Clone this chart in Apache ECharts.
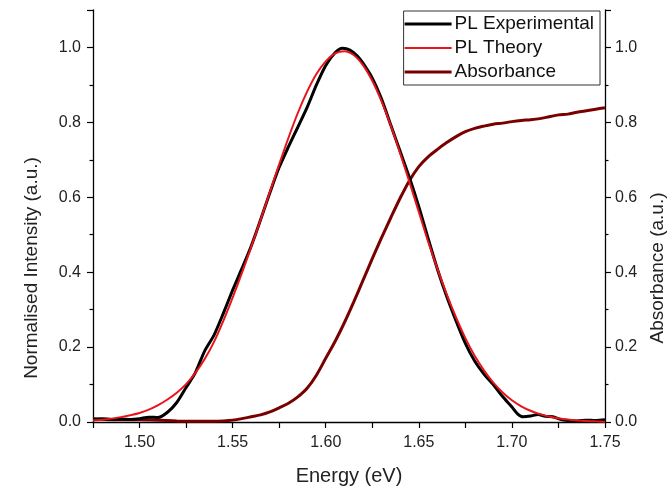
<!DOCTYPE html>
<html>
<head>
<meta charset="utf-8">
<script src="https://cdn.jsdelivr.net/npm/echarts@6/dist/echarts.min.js"></script>
<style>
  html, body { margin: 0; padding: 0; background: #fff; }
  #chart { width: 667px; height: 488px; }
</style>
</head>
<body>
<div id="chart"></div>
<script>
// Photoluminescence (measured and modelled) with absorbance, against photon energy
const energyExp = [1.475, 1.48, 1.485, 1.49, 1.495, 1.50, 1.505, 1.51, 1.515, 1.52, 1.525, 1.53, 1.535, 1.54, 1.545, 1.55, 1.555, 1.56, 1.565, 1.57, 1.575, 1.58, 1.585, 1.59, 1.595, 1.60, 1.605, 1.609, 1.613, 1.617, 1.62, 1.625, 1.63, 1.635, 1.64, 1.645, 1.65, 1.655, 1.66, 1.665, 1.67, 1.675, 1.68, 1.685, 1.69, 1.695, 1.70, 1.703, 1.706, 1.71, 1.714, 1.718, 1.722, 1.726, 1.73, 1.735, 1.74, 1.745, 1.75];
const plExperimental = [0.008, 0.009, 0.007, 0.008, 0.007, 0.009, 0.013, 0.012, 0.026, 0.052, 0.092, 0.132, 0.19, 0.232, 0.29, 0.352, 0.41, 0.47, 0.54, 0.612, 0.68, 0.735, 0.787, 0.84, 0.9, 0.952, 0.986, 0.998, 0.993, 0.977, 0.958, 0.918, 0.862, 0.792, 0.722, 0.652, 0.575, 0.49, 0.408, 0.335, 0.27, 0.21, 0.163, 0.128, 0.1, 0.068, 0.04, 0.022, 0.014, 0.016, 0.02, 0.015, 0.014, 0.007, 0.004, 0.003, 0.005, 0.004, 0.006];

const energyTheory = [1.475, 1.48, 1.485, 1.49, 1.495, 1.50, 1.505, 1.51, 1.515, 1.52, 1.525, 1.53, 1.535, 1.54, 1.545, 1.55, 1.555, 1.56, 1.565, 1.57, 1.575, 1.58, 1.585, 1.59, 1.595, 1.60, 1.605, 1.61, 1.615, 1.62, 1.625, 1.63, 1.635, 1.64, 1.645, 1.65, 1.655, 1.66, 1.665, 1.67, 1.675, 1.68, 1.685, 1.69, 1.695, 1.70, 1.705, 1.71, 1.715, 1.72, 1.725, 1.73, 1.735, 1.74, 1.745, 1.75];
const plTheory = [0.004, 0.006, 0.009, 0.013, 0.018, 0.024, 0.033, 0.045, 0.06, 0.078, 0.101, 0.131, 0.168, 0.214, 0.27, 0.332, 0.398, 0.468, 0.54, 0.614, 0.688, 0.759, 0.825, 0.882, 0.929, 0.963, 0.984, 0.99, 0.98, 0.953, 0.911, 0.856, 0.791, 0.717, 0.64, 0.561, 0.482, 0.409, 0.341, 0.279, 0.224, 0.177, 0.138, 0.105, 0.079, 0.058, 0.042, 0.03, 0.021, 0.0145, 0.0098, 0.0065, 0.0043, 0.0027, 0.0017, 0.001];

const energyAbs = [1.475, 1.48, 1.49, 1.50, 1.51, 1.52, 1.53, 1.54, 1.545, 1.55, 1.555, 1.56, 1.565, 1.57, 1.575, 1.58, 1.585, 1.59, 1.595, 1.60, 1.605, 1.61, 1.615, 1.62, 1.625, 1.63, 1.635, 1.64, 1.645, 1.65, 1.655, 1.66, 1.665, 1.67, 1.675, 1.68, 1.685, 1.69, 1.695, 1.70, 1.705, 1.71, 1.715, 1.72, 1.725, 1.73, 1.735, 1.74, 1.745, 1.75];
const absorbance = [0.008, 0.007, 0.006, 0.006, 0.005, 0.003, 0.002, 0.002, 0.003, 0.005, 0.009, 0.014, 0.019, 0.027, 0.038, 0.05, 0.067, 0.09, 0.125, 0.17, 0.215, 0.265, 0.32, 0.378, 0.436, 0.492, 0.546, 0.598, 0.645, 0.682, 0.708, 0.728, 0.746, 0.762, 0.775, 0.784, 0.79, 0.795, 0.798, 0.802, 0.805, 0.807, 0.81, 0.815, 0.82, 0.822, 0.827, 0.831, 0.835, 0.839];

const yTicks = ['0.0', '0.2', '0.4', '0.6', '0.8', '1.0'];

const pairs = (xs, ys) => xs.map((x, i) => [x, ys[i]]);

const FONT = "'Liberation Sans', Arial, sans-serif";
const TXT = '#222';
const C_EXP = '#000000';
const C_THEORY = '#e8141a';
const C_ABS = '#7a0000';

function valueAxis(pos) {
  return {
    type: 'value',
    position: pos,
    min: 0, max: 1.1, interval: 0.2,
    axisLine: { show: true, onZero: false, lineStyle: { color: '#000', width: 1.3 } },
    axisTick: { show: true, inside: false, length: 6, lineStyle: { color: '#000', width: 1.2 } },
    minorTick: { show: true, splitNumber: 2, length: 3.5, lineStyle: { color: '#000', width: 1.2 } },
    splitLine: { show: false },
    axisLabel: {
      margin: pos === 'left' ? 12 : 10,
      fontSize: 16, color: TXT, fontFamily: FONT,
      formatter: v => {
        const s = v.toFixed(1);
        return yTicks.indexOf(s) >= 0 ? s : '';
      }
    },
    nameLocation: 'middle',
    nameRotate: 90,
    nameTextStyle: { fontSize: 19, color: TXT, fontFamily: FONT }
  };
}

const leftAxis = valueAxis('left');
leftAxis.name = 'Normalised Intensity (a.u.)';
leftAxis.nameGap = 52;
leftAxis.nameTextStyle.padding = [0, 104, 0, 0];

const rightAxis = valueAxis('right');
rightAxis.name = 'Absorbance (a.u.)';
rightAxis.nameGap = 42;
rightAxis.nameTextStyle.padding = [0, 104, 0, 0];

// flat bar icons for the legend keys (thick for measured/absorbance, thin for theory)
const ICON_THICK = 'path://M0,0h47v3h-47z';
const ICON_THIN = 'path://M0,0h47v2h-47z';

const chart = echarts.init(document.getElementById('chart'), null, { renderer: 'canvas' });
chart.setOption({
  animation: false,
  backgroundColor: '#fff',
  textStyle: { fontFamily: FONT },
  grid: { left: 93, right: 62, top: 10, bottom: 66, containLabel: false, outerBoundsMode: 'none' },
  legend: {
    orient: 'vertical',
    right: 67, top: 11,
    data: [
      { name: 'PL Experimental', icon: ICON_THICK, itemStyle: { color: C_EXP } },
      { name: 'PL Theory', icon: ICON_THIN, itemStyle: { color: C_THEORY } },
      { name: 'Absorbance', icon: ICON_THICK, itemStyle: { color: C_ABS } }
    ],
    backgroundColor: '#fff',
    borderColor: '#333',
    borderWidth: 1,
    borderRadius: 0,
    padding: [3, 6, 3, 1],
    itemGap: 4,
    itemWidth: 47,
    itemHeight: 3,
    textStyle: { fontSize: 19, color: '#111', fontFamily: FONT, lineHeight: 20, padding: [0, 0, 0, -2] }
  },
  xAxis: {
    type: 'value',
    min: 1.475, max: 1.75, interval: 0.025,
    name: 'Energy (eV)',
    nameLocation: 'middle',
    nameGap: 44,
    nameTextStyle: { fontSize: 20, color: TXT, fontFamily: FONT },
    axisLine: { show: true, onZero: false, lineStyle: { color: '#000', width: 1.3 } },
    axisTick: { show: true, length: 6, lineStyle: { color: '#000', width: 1.2 } },
    splitLine: { show: false },
    axisLabel: {
      margin: 13, fontSize: 16, color: TXT, fontFamily: FONT,
      showMinLabel: true, showMaxLabel: true, hideOverlap: false,
      formatter: v => {
        const k = Math.round(v * 1000);
        return k % 50 === 0 ? v.toFixed(2) : '';
      }
    }
  },
  yAxis: [leftAxis, rightAxis],
  series: [
    {
      name: 'Absorbance', type: 'line', yAxisIndex: 1,
      data: pairs(energyAbs, absorbance),
      symbol: 'none', smooth: 0.3,
      lineStyle: { color: C_ABS, width: 3 },
      itemStyle: { color: C_ABS }, z: 2
    },
    {
      name: 'PL Experimental', type: 'line', yAxisIndex: 0,
      data: pairs(energyExp, plExperimental),
      symbol: 'none', smooth: 0.25,
      lineStyle: { color: C_EXP, width: 3 },
      itemStyle: { color: C_EXP }, z: 3
    },
    {
      name: 'PL Theory', type: 'line', yAxisIndex: 0,
      data: pairs(energyTheory, plTheory),
      symbol: 'none', smooth: 0.3,
      lineStyle: { color: C_THEORY, width: 2 },
      itemStyle: { color: C_THEORY }, z: 4
    }
  ]
});
</script>
</body>
</html>
